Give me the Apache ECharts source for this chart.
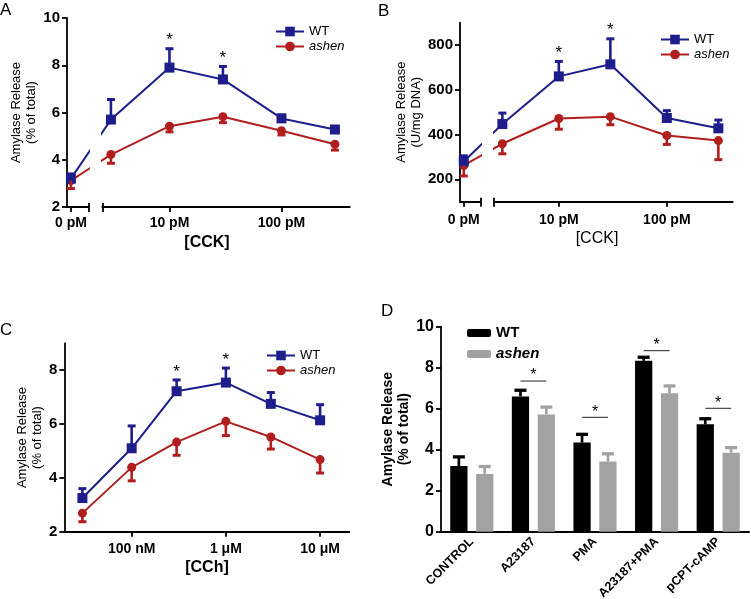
<!DOCTYPE html>
<html>
<head>
<meta charset="utf-8">
<script src="https://cdn.jsdelivr.net/npm/echarts@6/dist/echarts.min.js"></script>
<style>
  html, body { margin: 0; padding: 0; background: #fff; }
  #chart { width: 751px; height: 599px; }
</style>
</head>
<body>
<div id="chart"></div>
<script>
// ---------- data ----------
// A: amylase release (% of total) vs [CCK], pM
const cckDoses = [0, 3, 10, 30, 100, 300];
const wtA = [3.2, 5.7, 7.9, 7.4, 5.75, 5.28];
const wtAErr = [0.2, 0.85, 0.8, 0.55, 0.14, 0.1];
const ashenA = [3.12, 4.22, 5.42, 5.82, 5.23, 4.66];
const ashenAErr = [0.34, 0.37, 0.24, 0.25, 0.18, 0.25];
const sigA = ['', '', '*', '*', '', ''];

// B: amylase release (U/mg DNA) vs [CCK], pM
const wtB = [280, 447, 660, 714, 474, 428];
const wtBErr = [25, 49, 67, 114, 33, 37];
const ashenB = [262, 359, 472, 480, 396, 373];
const ashenBErr = [47, 45, 48, 36, 40, 85];
const sigB = ['', '', '*', '*', '', ''];

const cckTicks = [10, 100];
const cckTickLabels = ['10 pM', '100 pM'];
const yTicksB = [200, 400, 600, 800];

// C: amylase release (% of total) vs [CCh], nM
const cchDoses = [30, 100, 300, 1000, 3000, 10000];
const wtC = [3.25, 5.1, 7.22, 7.54, 6.75, 6.14];
const wtCErr = [0.35, 0.83, 0.42, 0.54, 0.42, 0.58];
const ashenC = [2.69, 4.39, 5.33, 6.1, 5.52, 4.68];
const ashenCErr = [0.32, 0.5, 0.49, 0.53, 0.45, 0.5];
const sigC = ['', '', '*', '*', '', ''];

const cchTicks = [100, 1000, 10000];
const cchTickLabels = ['100 nM', '1 \u03bcM', '10 \u03bcM'];
const yTicksC = [2, 4, 6, 8];

// D: amylase release (% of total) per treatment
const treatments = ['CONTROL', 'A23187', 'PMA', 'A23187+PMA', 'pCPT-cAMP'];
const wtD = [3.2, 6.6, 4.35, 8.34, 5.24];
const wtDErr = [0.45, 0.3, 0.4, 0.17, 0.27];
const ashenD = [2.82, 5.72, 3.42, 6.75, 3.85];
const ashenDErr = [0.36, 0.36, 0.38, 0.36, 0.25];
const sigDLevel = [null, 7.35, 5.58, 8.83, 6.02];

// ---------- styling / layout ----------
const FONT = '"Liberation Sans", Arial, sans-serif';
const WT_COLOR = '#1d1d8c';
const ASHEN_COLOR = '#b01e1e';
const GREY = '#a2a2a2';

// broken CCK axis: 0 pM is plotted on a short segment left of the log scale (units: log10 pM)
const ZERO_POS = 0.12;
const LEFT_SEG = [0.085, 0.275];
const RIGHT_SEG = [0.4, 2.61];
const CCH_RANGE = [1.285, 4.31]; // log10 nM

const BAR_GAP = 0.5, CAT_GAP = 0.3;
const barW = (1 - CAT_GAP) / (2 + BAR_GAP);
const BAR_OFFSET = (barW + barW * BAR_GAP) / 2;

const axisLineStyle = { color: '#000', width: 1.8 };

const chart = echarts.init(document.getElementById('chart'), null, { renderer: 'canvas' });

function brokenGrids(x0, decade, top, height) {
  return [
    { left: x0, top, width: (LEFT_SEG[1] - LEFT_SEG[0]) * decade, height, outerBoundsMode: 'none' },
    {
      left: x0 + (RIGHT_SEG[0] - LEFT_SEG[0]) * decade, top,
      width: (RIGHT_SEG[1] - RIGHT_SEG[0]) * decade, height, outerBoundsMode: 'none',
    },
  ];
}

const grids = [
  ...brokenGrids(67, 112, 18, 189),       // A
  ...brokenGrids(460, 108, 22.7, 179),    // B
  { left: 64.3, top: 343.3, width: 285, height: 188.4, outerBoundsMode: 'none' },  // C
  { left: 441, top: 326.7, width: 308, height: 205, outerBoundsMode: 'none' },     // D
];

const xLabelStyle = { color: '#000', fontFamily: FONT, fontWeight: 'bold', fontSize: 14 };

function brokenXAxes(gridL, gridR, margin) {
  const logTicks = cckTicks.map(Math.log10);
  const tickLabel = v => {
    const i = logTicks.findIndex(t => Math.abs(t - v) < 1e-6);
    return i < 0 ? '' : cckTickLabels[i];
  };
  return [
    {
      type: 'value', gridIndex: gridL, position: 'bottom', min: LEFT_SEG[0], max: LEFT_SEG[1],
      axisLine: { lineStyle: axisLineStyle },
      axisTick: { customValues: [ZERO_POS, LEFT_SEG[1]], length: 5, lineStyle: axisLineStyle },
      axisLabel: { customValues: [ZERO_POS], formatter: () => '0 pM', margin, ...xLabelStyle },
      splitLine: { show: false },
    },
    {
      type: 'value', gridIndex: gridL, position: 'bottom', min: LEFT_SEG[0], max: LEFT_SEG[1],
      axisLine: { show: false },
      axisTick: { inside: true, customValues: [LEFT_SEG[1]], length: 4, lineStyle: axisLineStyle },
      axisLabel: { show: false }, splitLine: { show: false },
    },
    {
      type: 'value', gridIndex: gridR, position: 'bottom', min: RIGHT_SEG[0], max: RIGHT_SEG[1],
      axisLine: { lineStyle: axisLineStyle },
      axisTick: { customValues: [RIGHT_SEG[0], ...logTicks], length: 5, lineStyle: axisLineStyle },
      axisLabel: { customValues: logTicks, formatter: tickLabel, margin, ...xLabelStyle },
      splitLine: { show: false },
    },
    {
      type: 'value', gridIndex: gridR, position: 'bottom', min: RIGHT_SEG[0], max: RIGHT_SEG[1],
      axisLine: { show: false },
      axisTick: { inside: true, customValues: [RIGHT_SEG[0]], length: 4, lineStyle: axisLineStyle },
      axisLabel: { show: false }, splitLine: { show: false },
    },
  ];
}

const cchLog = cchTicks.map(Math.log10);
const xAxes = [
  ...brokenXAxes(0, 1, 9),    // 0-3
  ...brokenXAxes(2, 3, 11),   // 4-7
  {                           // 8: C
    type: 'value', gridIndex: 4, min: CCH_RANGE[0], max: CCH_RANGE[1],
    axisLine: { lineStyle: axisLineStyle },
    axisTick: { customValues: cchLog, length: 5, lineStyle: axisLineStyle },
    axisLabel: {
      customValues: cchLog, margin: 10, ...xLabelStyle,
      formatter: v => cchTickLabels[cchLog.findIndex(t => Math.abs(t - v) < 1e-6)] || '',
    },
    splitLine: { show: false },
  },
  {                           // 9: D
    type: 'category', gridIndex: 5, data: treatments,
    axisLine: { lineStyle: axisLineStyle },
    axisTick: { alignWithLabel: true, length: 5, lineStyle: axisLineStyle },
    axisLabel: { rotate: 45, interval: 0, margin: 8, color: '#000', fontFamily: FONT, fontWeight: 'bold', fontSize: 12.5 },
  },
];

const yNameStyle = { color: '#000', fontFamily: FONT, fontSize: 13, lineHeight: 15 };
const yLabelStyle = { color: '#000', fontFamily: FONT, fontWeight: 'bold', fontSize: 15 };

function yVisible(gridIndex, min, max, ticks, name, nameGap, extra) {
  return {
    type: 'value', gridIndex, min, max,
    axisLine: { show: true, lineStyle: axisLineStyle },
    axisTick: { show: true, customValues: ticks, length: 5, lineStyle: axisLineStyle },
    axisLabel: { customValues: ticks, margin: 7, ...yLabelStyle, ...(extra && extra.label) },
    splitLine: { show: false },
    name, nameLocation: 'middle', nameRotate: 90, nameGap,
    nameTextStyle: { ...yNameStyle, ...(extra && extra.name) },
  };
}

const yTicksA = [2, 4, 6, 8, 10];
const yTicksD = [0, 2, 4, 6, 8, 10];
const yAxes = [
  yVisible(0, 2, 10, yTicksA, 'Amylase Release\n(% of total)', 19),
  { type: 'value', gridIndex: 1, min: 2, max: 10, show: false },
  yVisible(2, 100, 900, yTicksB, 'Amylase Release\n(U/mg DNA)', 35),
  { type: 'value', gridIndex: 3, min: 100, max: 900, show: false },
  yVisible(4, 2, 9, yTicksC, 'Amylase Release\n(% of total)', 18),
  yVisible(5, 0, 10, yTicksD, 'Amylase Release\n(% of total)', 25,
    { label: { fontSize: 16 }, name: { fontWeight: 'bold', fontSize: 14, lineHeight: 16 } }),
];

// ---------- series helpers ----------
function errorBarRender(color, dir, capHalf, width) {
  return function (params, api) {
    const x = api.value(0), y = api.value(1), e = api.value(2);
    const a = api.coord([x, y]);
    const b = api.coord([x, y + dir * e]);
    const style = { stroke: color, lineWidth: width };
    return {
      type: 'group', children: [
        { type: 'line', shape: { x1: a[0], y1: a[1], x2: b[0], y2: b[1] }, style },
        { type: 'line', shape: { x1: b[0] - capHalf, y1: b[1], x2: b[0] + capHalf, y2: b[1] }, style: { stroke: color, lineWidth: width + 0.4 } },
      ],
    };
  };
}

function starRender(params, api) {
  const p = api.coord([api.value(0), api.value(1)]);
  return {
    type: 'text', x: p[0], y: p[1] - 8,
    style: { text: '*', font: '17px ' + FONT, fill: '#000', align: 'center', verticalAlign: 'middle' },
  };
}

// one group of a dose–response panel drawn on one grid
function doseGroup(xIdx, yIdx, xs, ys, errs, keep, isWT) {
  const color = isWT ? WT_COLOR : ASHEN_COLOR;
  return [
    {
      type: 'line', name: isWT ? 'WT' : 'ashen', xAxisIndex: xIdx, yAxisIndex: yIdx,
      data: xs.map((x, i) => [x, ys[i]]),
      symbol: isWT ? 'rect' : 'circle', symbolSize: isWT ? 10 : 9,
      itemStyle: { color }, lineStyle: { color, width: 2 },
      clip: true, z: 3, animation: false,
    },
    {
      type: 'custom', xAxisIndex: xIdx, yAxisIndex: yIdx, z: 4,
      data: keep.map(i => [xs[i], ys[i], errs[i]]),
      renderItem: errorBarRender(color, isWT ? 1 : -1, 4, 2.6),
      animation: false,
    },
  ];
}

function starSeries(xIdx, yIdx, xs, ys, errs, sig) {
  return {
    type: 'custom', xAxisIndex: xIdx, yAxisIndex: yIdx, z: 5,
    data: sig.map((s, i) => s ? [xs[i], ys[i] + errs[i]] : null).filter(Boolean),
    renderItem: starRender, animation: false,
  };
}

function brokenPanel(axisBase, yBase, wt, wtErr, ash, ashErr, sig) {
  const xs = cckDoses.map(d => d === 0 ? ZERO_POS : Math.log10(d));
  const left = [0];
  const right = cckDoses.map((d, i) => i).filter(i => cckDoses[i] > 0);
  return [
    ...doseGroup(axisBase, yBase, xs, ash, ashErr, left, false),
    ...doseGroup(axisBase, yBase, xs, wt, wtErr, left, true),
    ...doseGroup(axisBase + 2, yBase + 1, xs, ash, ashErr, right, false),
    ...doseGroup(axisBase + 2, yBase + 1, xs, wt, wtErr, right, true),
    starSeries(axisBase + 2, yBase + 1, xs, wt, wtErr, sig),
  ];
}

const cchX = cchDoses.map(Math.log10);
const allIdx = cchDoses.map((d, i) => i);

function barErrRender(color, side) {
  return function (params, api) {
    const i = api.value(0), v = api.value(1), e = api.value(2);
    const off = side * BAR_OFFSET * api.size([1, 0])[0];
    const a = api.coord([i, v]), b = api.coord([i, v + e]);
    const x = a[0] + off;
    return {
      type: 'group', children: [
        { type: 'line', shape: { x1: x, y1: a[1], x2: x, y2: b[1] }, style: { stroke: color, lineWidth: 2.7 } },
        { type: 'line', shape: { x1: x - 6, y1: b[1], x2: x + 6, y2: b[1] }, style: { stroke: color, lineWidth: 3.3 } },
      ],
    };
  };
}

function sigRender(params, api) {
  const i = api.value(0), v = api.value(1);
  const half = BAR_OFFSET * api.size([1, 0])[0];
  const p = api.coord([i, v]);
  return {
    type: 'group', children: [
      { type: 'line', shape: { x1: p[0] - half, y1: p[1], x2: p[0] + half, y2: p[1] }, style: { stroke: '#222', lineWidth: 1 } },
      { type: 'text', x: p[0], y: p[1] - 5, style: { text: '*', font: '16px ' + FONT, fill: '#000', align: 'center', verticalAlign: 'middle' } },
    ],
  };
}

const series = [
  ...brokenPanel(0, 0, wtA, wtAErr, ashenA, ashenAErr, sigA),
  ...brokenPanel(4, 2, wtB, wtBErr, ashenB, ashenBErr, sigB),
  ...doseGroup(8, 4, cchX, ashenC, ashenCErr, allIdx, false),
  ...doseGroup(8, 4, cchX, wtC, wtCErr, allIdx, true),
  starSeries(8, 4, cchX, wtC, wtCErr, sigC),
  {
    type: 'bar', name: 'D-WT', xAxisIndex: 9, yAxisIndex: 5, data: wtD,
    barGap: (BAR_GAP * 100) + '%', barCategoryGap: (CAT_GAP * 100) + '%',
    itemStyle: { color: '#000' }, animation: false,
  },
  {
    type: 'bar', name: 'D-ashen', xAxisIndex: 9, yAxisIndex: 5, data: ashenD,
    itemStyle: { color: GREY }, animation: false,
  },
  {
    type: 'custom', xAxisIndex: 9, yAxisIndex: 5, z: 4,
    data: wtD.map((v, i) => [i, v, wtDErr[i]]),
    renderItem: barErrRender('#000', -1), animation: false,
  },
  {
    type: 'custom', xAxisIndex: 9, yAxisIndex: 5, z: 4,
    data: ashenD.map((v, i) => [i, v, ashenDErr[i]]),
    renderItem: barErrRender(GREY, 1), animation: false,
  },
  {
    type: 'custom', xAxisIndex: 9, yAxisIndex: 5, z: 5,
    data: sigDLevel.map((v, i) => v == null ? null : [i, v]).filter(Boolean),
    renderItem: sigRender, animation: false,
  },
];

function lineLegend(left, top) {
  return {
    left, top, orient: 'vertical', itemWidth: 28, itemHeight: 12, itemGap: 2,
    selectedMode: false, data: ['WT', 'ashen'],
    formatter: n => n === 'ashen' ? '{i|ashen}' : '{n|WT}',
    textStyle: {
      color: '#000', fontFamily: FONT, fontSize: 13,
      rich: {
        n: { color: '#000', fontFamily: FONT, fontSize: 13 },
        i: { color: '#000', fontFamily: FONT, fontSize: 13, fontStyle: 'italic' },
      },
    },
  };
}

const legends = [
  lineLegend(270, 20),
  lineLegend(655, 28),
  lineLegend(261, 344),
  {
    left: 462, top: 320.5, orient: 'vertical', itemWidth: 24, itemHeight: 8, itemGap: 6,
    icon: 'roundRect', selectedMode: false, data: ['D-WT', 'D-ashen'],
    formatter: n => n === 'D-ashen' ? '{i|ashen}' : '{n|WT}',
    textStyle: {
      color: '#000', fontFamily: FONT, fontSize: 15,
      rich: {
        n: { color: '#000', fontFamily: FONT, fontSize: 15, fontWeight: 'bold' },
        i: { color: '#000', fontFamily: FONT, fontSize: 15, fontWeight: 'bold', fontStyle: 'italic' },
      },
    },
  },
];

function label(text, x, y, font, align) {
  return {
    type: 'text', x, y,
    style: { text, font: font + ' ' + FONT, fill: '#000', align: align || 'left', verticalAlign: 'middle' },
  };
}

chart.setOption({
  backgroundColor: '#fff',
  animation: false,
  grid: grids,
  xAxis: xAxes,
  yAxis: yAxes,
  legend: legends,
  series,
  graphic: [
    label('A', 0, 10, '17px'),
    label('B', 378, 11, '17px'),
    label('C', 0, 330, '17px'),
    label('D', 381, 311, '17px'),
    label('[CCK]', 207, 243, 'bold 16px', 'center'),
    label('[CCK]', 597, 239, '16px', 'center'),
    label('[CCh]', 207, 568, 'bold 16px', 'center'),
  ],
});
</script>
</body>
</html>
